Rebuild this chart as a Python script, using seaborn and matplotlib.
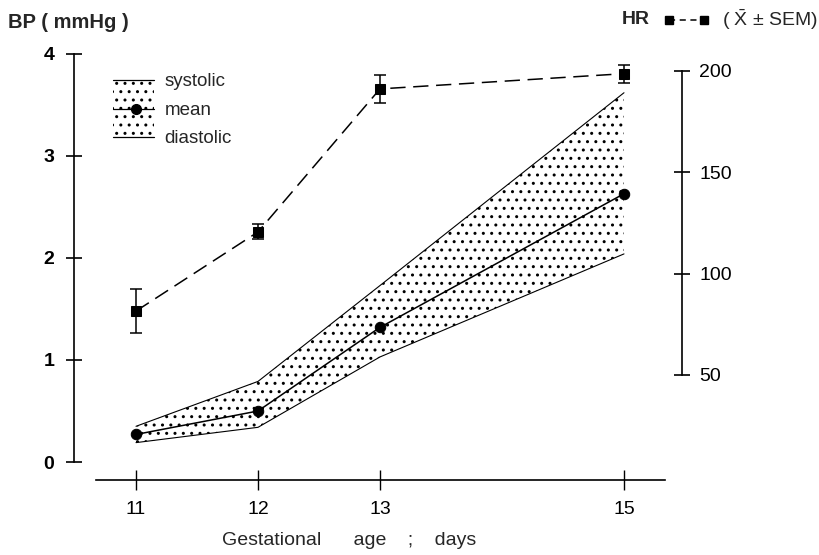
import matplotlib
matplotlib.use("Agg")
import matplotlib.pyplot as plt
import seaborn as sns
import pandas as pd
from matplotlib.lines import Line2D
from matplotlib.patches import Rectangle
from matplotlib.legend_handler import HandlerBase

# values
days = [11, 12, 13, 15]
bp_mean = [0.27, 0.50, 1.32, 2.63]
bp_systolic = [0.35, 0.79, 1.73, 3.62]
bp_diastolic = [0.19, 0.34, 1.03, 2.04]
hr_mean = [81.5, 120.5, 191.0, 198.5]
hr_sem = [11.0, 3.7, 7.0, 4.4]

bp_ticks = [0, 1, 2, 3, 4]
hr_ticks = [50, 100, 150, 200]

df = pd.DataFrame({"day": days, "mean": bp_mean, "sys": bp_systolic,
                   "dia": bp_diastolic, "hr": hr_mean, "sem": hr_sem})

sns.set_style("white")
plt.rcParams["font.family"] = ["Liberation Sans", "DejaVu Sans"]
plt.rcParams["mathtext.fontset"] = "custom"
plt.rcParams["mathtext.rm"] = "Liberation Sans"
plt.rcParams["hatch.linewidth"] = 1.0
plt.rcParams["hatch.color"] = "black"

fig = plt.figure(figsize=(8.2, 5.55), dpi=100)
ax = fig.add_axes([60 / 820, 55 / 555, 640 / 820, 460 / 555])
ax2 = ax.twinx()

# BP band
ax.fill_between(df["day"], df["dia"], df["sys"], facecolor="none",
                edgecolor="black", hatch="..", linewidth=0)
sns.lineplot(data=df, x="day", y="sys", ax=ax, color="black", lw=0.8)
sns.lineplot(data=df, x="day", y="dia", ax=ax, color="black", lw=0.8)
sns.lineplot(data=df, x="day", y="mean", ax=ax, color="black", lw=1.1,
             marker="o", markersize=7.5, markeredgecolor="black")

# HR on right axis
ax2.errorbar(df["day"], df["hr"], yerr=df["sem"], fmt="none",
             ecolor="black", elinewidth=1.1, capsize=4, capthick=1.1)
sns.lineplot(data=df, x="day", y="hr", ax=ax2, color="black", lw=1.1,
             marker="s", markersize=7, markeredgecolor="black")
ax2.lines[-1].set_dashes([10, 5])

# axes limits / spines
ax.set_xlim(10.377, 15.623)
ax.set_ylim(-0.3725, 4.137)
ax2.set_ylim(-11.62, 215.1)

for a in (ax, ax2):
    for s in a.spines.values():
        s.set_visible(False)
    a.grid(False)

ax.spines["left"].set_visible(True)
ax.spines["left"].set_position(("data", 10.49))
ax.spines["left"].set_bounds(0, 4)
ax.spines["bottom"].set_visible(True)
ax.spines["bottom"].set_position(("data", -0.176))
ax.spines["bottom"].set_bounds(10.67, 15.34)
ax2.spines["right"].set_visible(True)
ax2.spines["right"].set_position(("data", 15.475))
ax2.spines["right"].set_bounds(50, 200)
for s in (ax.spines["left"], ax.spines["bottom"], ax2.spines["right"]):
    s.set_linewidth(1.2)
    s.set_color("black")

ax.set_xticks(days)
ax.set_yticks(bp_ticks)
ax2.set_yticks(hr_ticks)
ax.tick_params(axis="y", direction="inout", length=12, width=1.2, pad=8,
               labelsize=14, left=True, colors="black")
ax.tick_params(axis="x", direction="inout", length=15, width=1.0, pad=8,
               labelsize=14, bottom=True, colors="black")
ax2.tick_params(axis="y", direction="inout", length=11, width=1.2, pad=7,
                labelsize=14, right=True, colors="black")
for lab in ax.get_yticklabels():
    lab.set_fontweight("bold")
ax.set_ylabel("")
ax2.set_ylabel("")
ax.set_xlabel("Gestational      age    ;    days", fontsize=14)
ax.xaxis.set_label_coords(0.452, -0.07)


class BandHandler(HandlerBase):
    def __init__(self, part):
        super().__init__()
        self.part = part

    def create_artists(self, legend, orig_handle, xdescent, ydescent,
                       width, height, fontsize, trans):
        x0 = -xdescent
        y0 = -ydescent
        yc = y0 + height / 2
        if self.part == "top":
            rb, rt = y0, yc
        elif self.part == "bottom":
            rb, rt = yc, y0 + height
        else:
            rb, rt = y0, y0 + height
        rect = Rectangle((x0, rb), width, rt - rb, facecolor="none",
                         edgecolor="black", hatch="..", linewidth=0,
                         transform=trans)
        line = Line2D([x0, x0 + width], [yc, yc], color="black",
                      lw=0.9, transform=trans)
        arts = [rect, line]
        if self.part == "mid":
            dot = Line2D([x0 + width * 0.55], [yc], marker="o",
                         markersize=7, color="black", transform=trans)
            arts.append(dot)
        return arts


h_sys, h_mean, h_dia = object(), object(), object()
ax.legend([h_sys, h_mean, h_dia], ["systolic", "mean", "diastolic"],
          handler_map={h_sys: BandHandler("top"), h_mean: BandHandler("mid"),
                       h_dia: BandHandler("bottom")},
          loc="upper left", bbox_to_anchor=(113 / 820, 1 - 66 / 555),
          bbox_transform=fig.transFigure, frameon=False, fontsize=13.5,
          handlelength=2.2, handleheight=1.95, labelspacing=0,
          handletextpad=0.55, borderpad=0, borderaxespad=0)

fig.text(8 / 820, 1 - 22 / 555, "BP ( mmHg )", fontsize=14.5,
         fontweight="bold", va="center", ha="left")
fig.text(622 / 820, 1 - 20 / 555, "HR", fontsize=14, fontweight="bold",
         va="center", ha="left")
hr_handle = Line2D([], [], color="black", lw=1.1, marker="s", markersize=6,
                   dashes=[4, 3])
fig.legend([hr_handle], ["( $\\bar{\\mathrm{X}}$ $\\pm$ SEM)"],
           loc="center right", bbox_to_anchor=(818 / 820, 1 - 20 / 555),
           frameon=False, fontsize=14, numpoints=2, handlelength=2.4,
           handletextpad=0.6, borderpad=0, borderaxespad=0)

fig.savefig("out.png", dpi=100)
